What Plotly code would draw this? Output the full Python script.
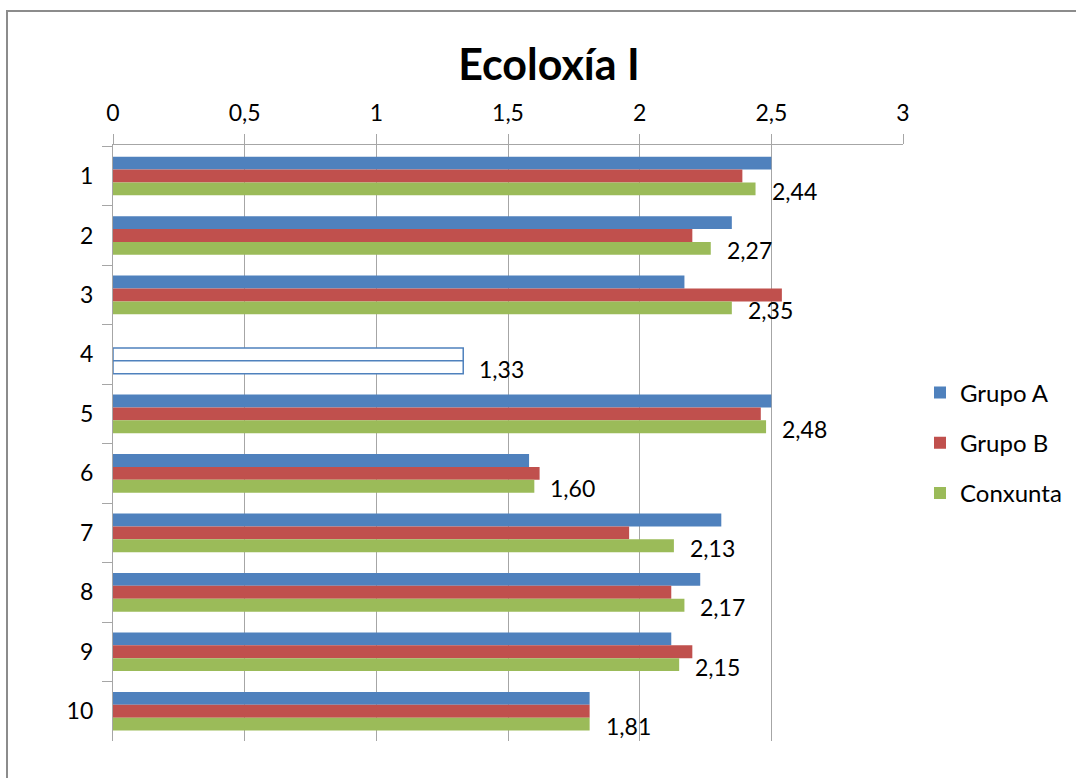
import plotly.graph_objects as go

categories = ["1", "2", "3", "4", "5", "6", "7", "8", "9", "10"]
grupo_a = [2.50, 2.35, 2.17, None, 2.50, 1.58, 2.31, 2.23, 2.12, 1.81]
grupo_b = [2.39, 2.20, 2.54, 1.33, 2.46, 1.62, 1.96, 2.12, 2.20, 1.81]
conxunta = [2.44, 2.27, 2.35, 1.33, 2.48, 1.60, 2.13, 2.17, 2.15, 1.81]
hollow = ["4"]  # categories drawn as empty bars with blue outline
x_ticks = [0, 0.5, 1, 1.5, 2, 2.5, 3]

BLUE, RED, GREEN = "#4F81BD", "#C0504D", "#9BBB59"
FONT = "Lato"
FS = 23

def fills(color):
    return ["white" if c in hollow else color for c in categories]

def lines(color):
    return [BLUE if c in hollow else color for c in categories]

def widths():
    return [1.5 if c in hollow else 0 for c in categories]

fig = go.Figure()
for name, vals, col, grp in [("Grupo A", grupo_a, BLUE, "a"),
                             ("Grupo B", grupo_b, RED, "b"),
                             ("Conxunta", conxunta, GREEN, "c")]:
    fig.add_trace(go.Bar(
        y=categories, x=vals, name=name, orientation="h", legendgroup=grp,
        marker=dict(color=fills(col), line=dict(color=lines(col), width=widths())),
    ))

for i, v in enumerate(conxunta):
    fig.add_annotation(x=v, y=i, xref="x", yref="y", text=f"{v:.2f}".replace(".", ","),
                       showarrow=False, xanchor="left", yanchor="middle",
                       xshift=14, yshift=-15, font=dict(family=FONT, size=FS, color="#000"))

W, H = 1076, 778
L, T = 113, 145
R = W - 903
B = H - 741
pw, ph = W - L - R, H - T - B
fig.add_shape(type="rect", xref="paper", yref="paper",
              x0=(7 - L) / pw, x1=(1300 - L) / pw,
              y0=(H - B - 1000) / ph, y1=(H - B - 11) / ph,
              line=dict(color="#8c8c8c", width=2), fillcolor="rgba(0,0,0,0)", layer="below")

fig.update_layout(
    width=W, height=H,
    margin=dict(l=L, r=R, t=T, b=B, autoexpand=False),
    paper_bgcolor="white", plot_bgcolor="white",
    separators=",.",
    barmode="group", bargap=0.35, bargroupgap=0,
    title=dict(text="<b>Ecoloxía I</b>", x=549 / W, xanchor="center", y=1 - 65 / H,
               yanchor="middle", font=dict(family=FONT, size=43, color="#000")),
    font=dict(family=FONT, size=FS, color="#000"),
    legend=dict(x=(920 - L) / pw, xanchor="left", y=0.5, yanchor="middle",
                traceorder="grouped", tracegroupgap=16, itemwidth=30,
                font=dict(family=FONT, size=24, color="#000")),
    xaxis=dict(side="top", range=[0, 3], tickvals=x_ticks, showgrid=True, gridcolor="#a6a6a6", gridwidth=1.3,
               showline=True, linecolor="#a6a6a6", linewidth=1.3, ticks="outside", ticklen=10,
               tickcolor="#a6a6a6", tickfont=dict(family=FONT, size=FS, color="#000"),
               ticklabelstandoff=4, zeroline=False),
    yaxis=dict(autorange="reversed", type="category", showline=True, linecolor="#a6a6a6", linewidth=1.3,
               ticks="outside", ticklen=10, tickcolor="#a6a6a6", tickson="boundaries",
               showgrid=False, tickfont=dict(family=FONT, size=FS, color="#000"),
               ticklabelstandoff=14),
)

fig.write_html("out.html", config={"displayModeBar": False},
               post_script="document.body.style.margin='0px';document.body.style.overflow='hidden';")
